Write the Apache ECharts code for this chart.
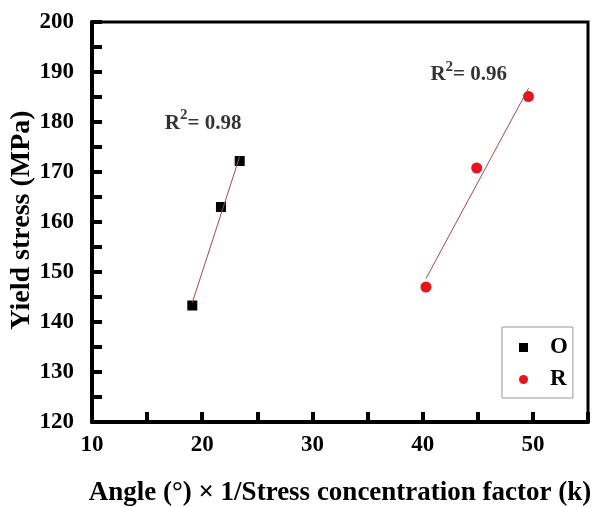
<!DOCTYPE html>
<html>
<head>
<meta charset="utf-8">
<script src="https://cdn.jsdelivr.net/npm/echarts@6/dist/echarts.min.js"></script>
<style>
  html, body { margin: 0; padding: 0; background: #fff; }
  #chart { width: 592px; height: 507px; }
</style>
</head>
<body>
<div id="chart"></div>
<script>
// values
const oAngle = [19.1, 21.7, 23.4];
const oStress = [143.3, 163.0, 172.2];
const rAngle = [40.3, 44.9, 49.6];
const rStress = [147.0, 170.8, 185.1];
const xTicks = [10, 20, 30, 40, 50];
const yTicks = [120, 130, 140, 150, 160, 170, 180, 190, 200];
const oNote = { x: 16.6, y: 177.6, text: '0.98' };
const rNote = { x: 40.7, y: 187.3, text: '0.96' };

const FONT = '"Liberation Serif", "Times New Roman", serif';

// least squares line over the x range of the points
const fitLine = (xs, ys) => {
  const n = xs.length;
  const mx = xs.reduce((a, b) => a + b, 0) / n;
  const my = ys.reduce((a, b) => a + b, 0) / n;
  let sxy = 0, sxx = 0;
  xs.forEach((x, i) => { sxy += (x - mx) * (ys[i] - my); sxx += (x - mx) * (x - mx); });
  const k = sxy / sxx;
  const lo = Math.min(...xs), hi = Math.max(...xs);
  return [[lo, my + k * (lo - mx)], [hi, my + k * (hi - mx)]];
};

const zip = (xs, ys) => xs.map((x, i) => [x, ys[i]]);

const noteSeries = (note) => ({
  type: 'scatter',
  symbolSize: 0,
  silent: true,
  data: [[note.x, note.y]],
  label: {
    show: true,
    position: [0, 0],
    align: 'left',
    verticalAlign: 'bottom',
    formatter: '{a|R}{s|2}{a|= ' + note.text + '}',
    rich: {
      a: { fontFamily: FONT, fontWeight: 'bold', fontSize: 21, color: '#000', lineHeight: 26, verticalAlign: 'bottom' },
      s: { fontFamily: FONT, fontWeight: 'bold', fontSize: 15, color: '#000', lineHeight: 26, verticalAlign: 'top' },
    },
  },
});

const chart = echarts.init(document.getElementById('chart'));

chart.setOption({
  animation: false,
  grid: {
    left: 92, top: 22, right: 4, bottom: 85,
    outerBoundsMode: 'none',
    show: true, borderColor: '#000', borderWidth: 3,
  },
  legend: {
    data: ['O', 'R'],
    orient: 'vertical',
    left: 502, top: 327,
    padding: [9, 5, 7, 17],
    itemGap: 9,
    itemWidth: 9, itemHeight: 9,
    borderColor: '#999', borderWidth: 1,
    textStyle: { fontFamily: FONT, fontWeight: 'bold', fontSize: 23, color: '#000', padding: [0, 0, 0, 17] },
  },
  xAxis: {
    type: 'value',
    min: 10, max: 55, interval: 5,
    name: 'Angle (°) × 1/Stress concentration factor (k)',
    nameLocation: 'middle',
    nameGap: 58,
    nameMoveOverlap: false,
    nameTextStyle: { fontFamily: FONT, fontWeight: 'bold', fontSize: 27, color: '#000' },
    splitLine: { show: false },
    axisLine: { lineStyle: { color: '#000', width: 4 } },
    axisTick: { inside: true, length: 10, lineStyle: { color: '#000', width: 4 } },
    axisLabel: {
      margin: 12,
      fontFamily: FONT, fontWeight: 'bold', fontSize: 23, color: '#000',
      formatter: (v) => (xTicks.includes(v) ? String(v) : ''),
    },
  },
  yAxis: {
    type: 'value',
    min: 120, max: 200, interval: 5,
    name: 'Yield stress (MPa)',
    nameLocation: 'middle',
    nameGap: 56,
    nameMoveOverlap: false,
    nameTextStyle: { fontFamily: FONT, fontWeight: 'bold', fontSize: 28, color: '#000', padding: [0, 0, 0, 4] },
    splitLine: { show: false },
    axisLine: { lineStyle: { color: '#000', width: 4 } },
    axisTick: { inside: true, length: 10, lineStyle: { color: '#000', width: 4 } },
    axisLabel: {
      margin: 18,
      fontFamily: FONT, fontWeight: 'bold', fontSize: 23, color: '#000',
      formatter: (v) => (yTicks.includes(v) ? String(v) : ''),
    },
  },
  series: [
    {
      name: 'O fit',
      type: 'line',
      data: fitLine(oAngle, oStress),
      symbol: 'none',
      silent: true,
      lineStyle: { color: '#a8474c', width: 1 },
    },
    {
      name: 'R fit',
      type: 'line',
      data: fitLine(rAngle, rStress),
      symbol: 'none',
      silent: true,
      lineStyle: { color: '#a8474c', width: 1 },
    },
    {
      name: 'O',
      type: 'scatter',
      symbol: 'rect',
      symbolSize: 10,
      data: zip(oAngle, oStress),
      itemStyle: { color: '#000', opacity: 1 },
    },
    {
      name: 'R',
      type: 'scatter',
      symbol: 'circle',
      symbolSize: 11,
      data: zip(rAngle, rStress),
      itemStyle: { color: '#e8141c', opacity: 1 },
    },
    noteSeries(oNote),
    noteSeries(rNote),
  ],
});
</script>
</body>
</html>
